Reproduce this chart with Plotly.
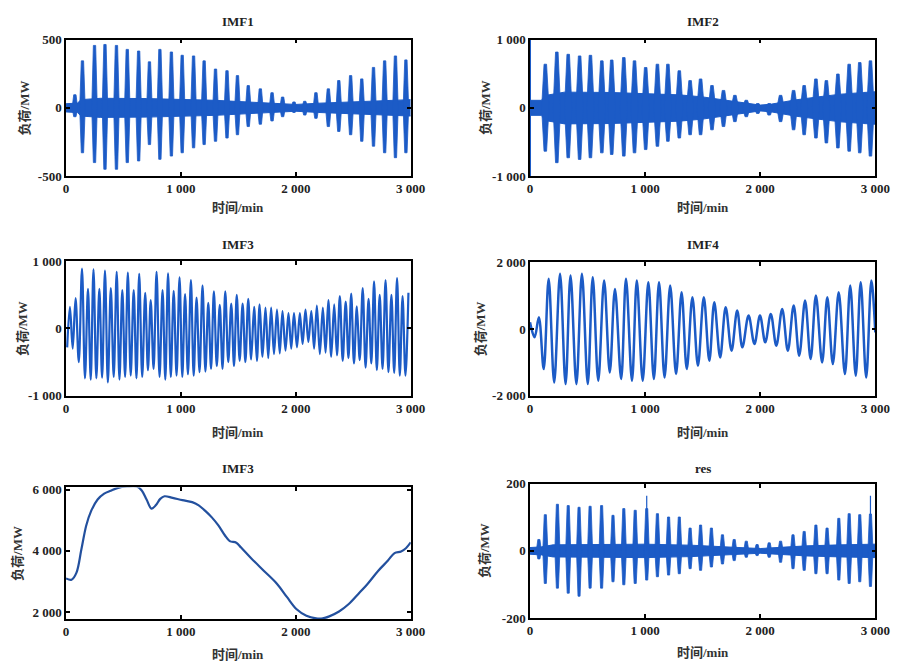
import plotly.graph_objects as go

W, H = 905, 670
BLUE = "#1c5bc6"
DARK = "#23509e"
TXT = "#222222"

# ---------------- data ----------------
x_tick_vals = [0, 1000, 2000, 3000]
x_tick_text = ["0", "1 000", "2 000", "3 000"]

# IMF1 (dense): burst times, burst extremes, inter-burst band
imf1_t = [77, 143, 248, 339, 439, 533, 632, 726, 817, 917, 1011, 1110, 1202, 1301, 1401,
          1492, 1586, 1691, 1793, 1885, 1984, 2078, 2175, 2283, 2374, 2477, 2574, 2676, 2773, 2867, 2958]
imf1_hi = [96, 344, 457, 464, 457, 428, 416, 337, 428, 409, 385, 380, 344, 284, 272,
           236, 163, 139, 111, 79, 43, 48, 111, 139, 200, 236, 212, 296, 344, 380, 351]
imf1_lo = [-65, -329, -401, -450, -450, -401, -389, -269, -377, -353, -329, -293, -269, -245, -221,
           -197, -137, -120, -96, -65, -34, -53, -77, -137, -173, -197, -245, -281, -329, -365, -329]
imf1_band_t = [0, 100, 130, 300, 700, 1000, 1300, 1600, 1800, 2000, 2200, 2500, 2800, 3000]
imf1_band_hi = [30, 35, 60, 70, 68, 62, 55, 42, 34, 25, 34, 45, 58, 60]
imf1_band_lo = [-30, -35, -60, -70, -68, -62, -55, -42, -34, -25, -34, -45, -58, -60]

# IMF2 (dense)
imf2_t = [133, 233, 332, 431, 525, 624, 710, 815, 908, 1005, 1107, 1198, 1297, 1391,
          1482, 1581, 1681, 1780, 1879, 1979, 2078, 2177, 2290, 2382, 2484, 2575, 2675, 2773, 2865, 2958]
imf2_hi = [639, 817, 784, 760, 769, 688, 700, 736, 688, 591, 639, 639, 543, 399,
           423, 327, 255, 183, 111, 63, 63, 183, 255, 327, 423, 399, 495, 639, 663, 688]
imf2_lo = [-635, -803, -731, -755, -731, -659, -683, -707, -659, -611, -563, -490, -442, -394,
           -394, -322, -274, -202, -130, -82, -106, -202, -322, -394, -442, -514, -587, -635, -659, -707]
imf2_band_t = [0, 100, 130, 300, 700, 1000, 1300, 1500, 1700, 1900, 2000, 2100, 2300, 2500, 2700, 2900, 3000]
imf2_band_hi = [110, 110, 180, 230, 225, 210, 190, 160, 115, 60, 40, 55, 115, 160, 200, 225, 235]
imf2_band_lo = [-110, -110, -185, -235, -230, -215, -195, -165, -120, -65, -45, -60, -120, -165, -205, -230, -240]
imf2_edge_t = [0, 0]
imf2_edge_v = [-1000, 1000]

# IMF3 (middle left): peaks and troughs
imf3_peak_t = [34, 83, 139, 191, 239, 290, 339, 390, 441, 490, 538, 589, 637, 689, 737, 788, 840, 888, 937, 988,
               1036, 1087, 1136, 1188, 1238, 1287, 1338, 1386, 1438, 1486, 1537, 1586, 1637, 1685, 1736, 1785,
               1836, 1884, 1936, 1984, 2035, 2084, 2135, 2183, 2235, 2283, 2334, 2383, 2434, 2482, 2531, 2582,
               2633, 2681, 2730, 2781, 2832, 2881, 2929, 2980]
imf3_peak_v = [320, 450, 890, 590, 880, 590, 860, 600, 840, 570, 830, 570, 810, 530, 420, 840, 570, 820, 560, 760,
               510, 720, 460, 640, 380, 550, 350, 550, 370, 500, 370, 440, 320, 360, 310, 310, 280, 260, 230, 230,
               230, 280, 260, 340, 310, 420, 360, 480, 400, 520, 330, 600, 440, 700, 500, 720, 500, 750, 480, 530]
imf3_trough_t = [10, 58, 111, 165, 215, 264, 314, 364, 415, 465, 514, 563, 613, 663, 713, 762, 814, 864, 912, 962,
                 1012, 1061, 1111, 1162, 1213, 1262, 1312, 1362, 1412, 1462, 1511, 1561, 1611, 1661, 1710, 1760,
                 1810, 1860, 1910, 1960, 2010, 2059, 2109, 2159, 2209, 2259, 2308, 2358, 2408, 2458, 2506, 2556,
                 2607, 2657, 2705, 2755, 2806, 2856, 2905, 2954]
imf3_trough_v = [-280, -300, -500, -740, -760, -740, -730, -800, -720, -760, -720, -700, -740, -720, -620, -600,
                 -720, -760, -720, -700, -720, -680, -700, -650, -640, -600, -560, -600, -500, -560, -480, -500,
                 -460, -480, -420, -440, -380, -370, -330, -300, -280, -230, -200, -300, -380, -360, -420, -400,
                 -480, -440, -520, -470, -580, -520, -620, -600, -650, -660, -700, -700]

# IMF4 (middle right): alternating extremes
imf4_t = [0, 40, 77, 119, 162, 210, 261, 309, 352, 403, 451, 502, 545, 593, 644, 693, 738, 792, 834, 886,
          928, 979, 1028, 1076, 1121, 1169, 1218, 1269, 1317, 1362, 1411, 1459, 1510, 1558, 1601, 1652, 1700,
          1751, 1800, 1845, 1899, 1950, 1998, 2044, 2092, 2140, 2191, 2240, 2291, 2339, 2390, 2438, 2484, 2538,
          2583, 2631, 2682, 2736, 2782, 2830, 2873, 2921, 2966, 3000]
imf4_v = [200, -250, 350, -1200, 1500, -1600, 1650, -1650, 1600, -1650, 1650, -1650, 1550, -1550, 1450, -1300,
          1200, -1500, 1500, -1550, 1450, -1550, 1400, -1500, 1400, -1450, 1300, -1350, 1100, -1200, 950, -1100,
          950, -950, 800, -850, 650, -650, 550, -550, 400, -450, 400, -400, 450, -500, 600, -650, 700, -800,
          850, -900, 1000, -1000, 950, -1050, 1100, -1350, 1300, -1400, 1400, -1450, 1450, -100]

# trend (bottom left, titled IMF3 in the source)
trend_t = [0, 48, 91, 133, 176, 219, 275, 332, 389, 446, 531, 616, 659, 701, 744, 781, 820, 857, 928, 1013,
           1098, 1155, 1212, 1269, 1326, 1382, 1425, 1482, 1524, 1609, 1723, 1837, 1922, 2007, 2092, 2177, 2234,
           2291, 2376, 2461, 2546, 2631, 2716, 2802, 2859, 2916, 2958, 3000]
trend_v = [3098, 3056, 3289, 4032, 4828, 5305, 5676, 5867, 5963, 6048, 6101, 6101, 5973, 5676, 5379, 5485, 5698,
           5782, 5729, 5655, 5592, 5485, 5305, 5093, 4828, 4509, 4318, 4265, 4106, 3767, 3342, 2918, 2493, 2090,
           1878, 1793, 1793, 1857, 2016, 2260, 2599, 2950, 3342, 3682, 3926, 3979, 4085, 4276]

# res (bottom right, dense)
res_t = [77, 133, 238, 332, 426, 522, 622, 721, 815, 914, 1014, 1107, 1204, 1297, 1391,
         1482, 1576, 1672, 1774, 1879, 1973, 2078, 2177, 2285, 2382, 2484, 2581, 2683, 2773, 2865, 2958]
res_hi = [34, 108, 139, 135, 130, 133, 135, 106, 126, 121, 126, 111, 101, 101, 68,
          77, 68, 48, 34, 29, 19, 24, 29, 48, 58, 77, 68, 97, 111, 108, 110]
res_lo = [-24, -97, -111, -126, -135, -111, -111, -92, -101, -97, -87, -77, -72, -68, -53,
          -58, -48, -39, -29, -19, -14, -19, -34, -53, -58, -68, -68, -87, -97, -92, -106]
res_spike_t = [1014, 2958]
res_spike_v = [164, 164]
res_band_t = [0, 100, 200, 600, 1000, 1400, 1700, 1900, 2000, 2100, 2400, 2700, 3000]
res_band_hi = [10, 12, 18, 20, 20, 17, 13, 9, 7, 9, 15, 18, 20]
res_band_lo = [-10, -12, -18, -20, -20, -17, -13, -9, -7, -9, -15, -18, -20]

# ---------------- figure ----------------
fig = go.Figure()


def ax(i):
    return ("x" if i == 1 else f"x{i}", "y" if i == 1 else f"y{i}")


def add_dense(i, band_t, band_hi, band_lo, t, hi, lo, w_base, w_top):
    xa, ya = ax(i)
    fig.add_trace(go.Scatter(x=band_t, y=band_hi, mode="lines", line=dict(color=BLUE, width=1),
                             xaxis=xa, yaxis=ya, hoverinfo="skip", showlegend=False))
    fig.add_trace(go.Scatter(x=band_t, y=band_lo, mode="lines", line=dict(color=BLUE, width=1),
                             fill="tonexty", fillcolor=BLUE, xaxis=xa, yaxis=ya,
                             hoverinfo="skip", showlegend=False))
    # each burst: tapered spike polygon built from its time and extremes
    px, py = [], []
    for tt, h, l in zip(t, hi, lo):
        px += [tt - w_base, tt - w_top, tt + w_top, tt + w_base, tt + w_top, tt - w_top, tt - w_base, None]
        py += [0, h, h, 0, l, l, 0, None]
    fig.add_trace(go.Scatter(x=px, y=py, mode="lines", fill="toself", fillcolor=BLUE,
                             line=dict(color=BLUE, width=0.8), xaxis=xa, yaxis=ya,
                             hoverinfo="skip", showlegend=False))


add_dense(1, imf1_band_t, imf1_band_hi, imf1_band_lo, imf1_t, imf1_hi, imf1_lo, 24, 10)
add_dense(2, imf2_band_t, imf2_band_hi, imf2_band_lo, imf2_t, imf2_hi, imf2_lo, 32, 11)
fig.add_trace(go.Scatter(x=imf2_edge_t, y=imf2_edge_v, mode="lines", line=dict(color=BLUE, width=2),
                         xaxis="x2", yaxis="y2", showlegend=False))

# IMF3: merge peaks and troughs in time order
pts3 = sorted(list(zip(imf3_peak_t, imf3_peak_v)) + list(zip(imf3_trough_t, imf3_trough_v)))
fig.add_trace(go.Scatter(x=[p[0] for p in pts3], y=[p[1] for p in pts3], mode="lines",
                         line=dict(color=BLUE, width=2.2, shape="spline", smoothing=1),
                         xaxis="x3", yaxis="y3", showlegend=False))
fig.add_trace(go.Scatter(x=imf4_t, y=imf4_v, mode="lines",
                         line=dict(color=BLUE, width=2.5, shape="spline", smoothing=1),
                         xaxis="x4", yaxis="y4", showlegend=False))
fig.add_trace(go.Scatter(x=trend_t, y=trend_v, mode="lines",
                         line=dict(color=DARK, width=2.2, shape="spline", smoothing=1),
                         xaxis="x5", yaxis="y5", showlegend=False))
add_dense(6, res_band_t, res_band_hi, res_band_lo, res_t, res_hi, res_lo, 22, 9)
for st, sv in zip(res_spike_t, res_spike_v):
    fig.add_trace(go.Scatter(x=[st, st], y=[0, sv], mode="lines", line=dict(color=BLUE, width=1.2),
                             xaxis="x6", yaxis="y6", showlegend=False))

# panel boxes in pixels: (left, right, top, bottom)
panels = [
    (64.3, 416, 33.3, 173),
    (537.7, 890, 33.3, 173),
    (64.3, 416, 260, 397.7),
    (537.7, 890, 261, 397.7),
    (64.3, 416, 491.5, 626),
    (537.7, 890, 487.7, 625),
]
y_ranges = [[-500, 500], [-1000, 1000], [-1000, 1000], [-2000, 2000], [1772, 6069], [-200, 200]]
y_ticks = [[-500, 0, 500], [-1000, 0, 1000], [-1000, 0, 1000], [-2000, 0, 2000], [2000, 4000, 6000],
           [-200, 0, 200]]
y_text = [["-500", "0", "500"], ["-1 000", "0", "1 000"], ["-1 000", "0", "1 000"],
          ["-2 000", "0", "2 000"], ["2 000", "4 000", "6 000"], ["-200", "0", "200"]]
titles = ["IMF1", "IMF2", "IMF3", "IMF4", "IMF3", "res"]
title_y = [15, 15, 243, 243, 472, 472]
xlab_y = [205, 205, 435, 435, 662, 660]
ylab_x = [22, 493, 20, 488, 15, 492]

tickfont = dict(family="Liberation Serif", size=13, color=TXT, weight="bold")
layout = dict(width=W, height=H, margin=dict(l=0, r=0, t=0, b=0),
              paper_bgcolor="white", plot_bgcolor="white", showlegend=False)
annotations = []
for k, (l, r, t, b) in enumerate(panels):
    n = k + 1
    xs = "xaxis" if n == 1 else f"xaxis{n}"
    ys = "yaxis" if n == 1 else f"yaxis{n}"
    yanc = "y" if n == 1 else f"y{n}"
    xanc = "x" if n == 1 else f"x{n}"
    layout[xs] = dict(domain=[l / W, r / W], anchor=yanc, range=[0, 3000],
                      tickvals=x_tick_vals, ticktext=x_tick_text, ticks="inside", ticklen=4,
                      tickwidth=1.5, tickcolor="black", showline=True, linewidth=1.5, linecolor="black",
                      mirror="ticks", showgrid=False, zeroline=False, tickfont=tickfont, fixedrange=True)
    layout[ys] = dict(domain=[1 - b / H, 1 - t / H], anchor=xanc, range=y_ranges[k],
                      tickvals=y_ticks[k], ticktext=y_text[k], ticks="inside", ticklen=4,
                      tickwidth=1.5, tickcolor="black", showline=True, linewidth=1.5, linecolor="black",
                      mirror="ticks", showgrid=False, zeroline=False, tickfont=tickfont, fixedrange=True)
    cx = (l + r) / 2
    annotations.append(dict(text=titles[k], x=cx / W, y=1 - title_y[k] / H, xref="paper", yref="paper",
                            xanchor="center", yanchor="middle", showarrow=False,
                            font=dict(family="Liberation Serif", size=13, color=TXT, weight="bold")))
    annotations.append(dict(text="时间/min", x=cx / W, y=1 - xlab_y[k] / H, xref="paper", yref="paper",
                            xanchor="center", yanchor="middle", showarrow=False,
                            font=dict(family="Liberation Serif, Noto Sans CJK SC", size=13, color="#333",
                                      weight="bold")))
    annotations.append(dict(text="负荷/MW", x=ylab_x[k] / W, y=1 - ((t + b) / 2) / H, xref="paper",
                            yref="paper", xanchor="center", yanchor="middle", showarrow=False, textangle=-90,
                            font=dict(family="Liberation Serif, Noto Sans CJK SC", size=13, color="#333",
                                      weight="bold")))
layout["annotations"] = annotations
fig.update_layout(**layout)
fig.write_html("out.html")
